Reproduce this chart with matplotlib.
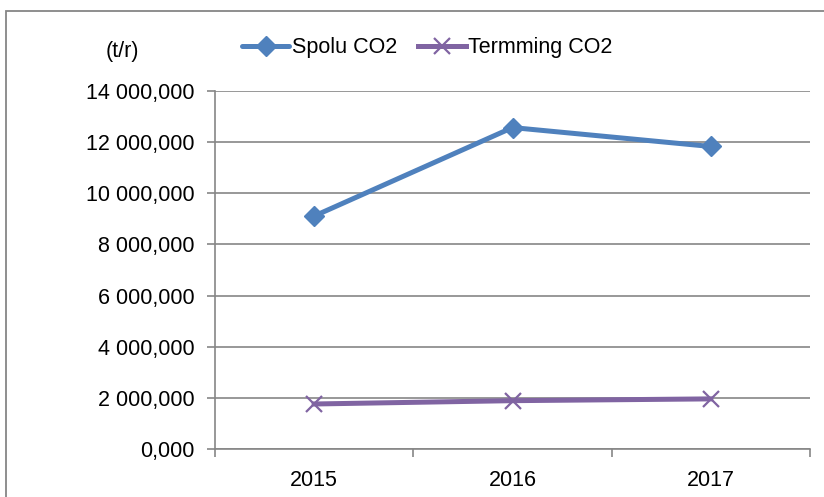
import matplotlib.pyplot as plt
from matplotlib.patches import Rectangle
from matplotlib.ticker import FuncFormatter

plt.rcParams['font.family'] = ['Liberation Sans Narrow', 'Liberation Sans', 'DejaVu Sans']

roky = ['2015', '2016', '2017']
spolu_co2 = [9110000, 12570000, 11830000]
termming_co2 = [1760000, 1890000, 1960000]

modra = '#4F81BD'
fialova = '#8064A2'
seda = '#868686'
velkost = 15.5

fig = plt.figure(figsize=(8.24, 4.97), dpi=100)
W, H = 824, 497
ax = fig.add_axes([215 / W, 1 - 449 / H, (810 - 215) / W, (449 - 91) / H])

# ramik okolo celeho grafu (orezany vpravo a dole)
fig.patches.append(Rectangle((6 / W, -0.05), 1.2, 1 - 11 / H + 0.05, transform=fig.transFigure,
                             fill=False, edgecolor=seda, linewidth=1.3))

x = [0.5, 1.5, 2.5]
ax.plot(x, spolu_co2, color=modra, lw=3.6, marker='D', markersize=10, label='Spolu CO2',
        solid_capstyle='round', zorder=3)
ax.plot(x, termming_co2, color=fialova, lw=3.6, marker='x', markersize=11, mew=1.6,
        label='Termming CO2', zorder=3)

ax.set_xlim(0, 3)
ax.set_ylim(0, 14000000)
ax.set_yticks(range(0, 14000001, 2000000))
ax.set_xticks([0, 1, 2, 3])
ax.set_xticklabels([])
ax.set_xticks(x, minor=True)
ax.set_xticklabels(roky, minor=True)
ax.tick_params(axis='x', which='minor', length=0, pad=15, labelsize=velkost)
ax.tick_params(axis='x', which='major', length=6, color=seda, width=1.2, direction='out')
ax.tick_params(axis='y', length=6, color=seda, width=1.2, pad=9, labelsize=velkost)


def formatuj(v, pos):
    cele = f'{int(round(v / 1000)):,}'.replace(',', ' ')
    return cele + ',000' if v else '0,000'


ax.yaxis.set_major_formatter(FuncFormatter(formatuj))
ax.grid(axis='y', color=seda, linewidth=1.2)
ax.set_axisbelow(True)
for s in ['top', 'right']:
    ax.spines[s].set_visible(False)
for s in ['left', 'bottom']:
    ax.spines[s].set_color(seda)
    ax.spines[s].set_linewidth(1.2)

fig.text(122 / W, 1 - 52 / H, '(t/r)', ha='center', va='center', fontsize=velkost)
fig.legend(loc='center left', bbox_to_anchor=(242 / W, 1 - 48 / H), ncol=2, frameon=False,
           fontsize=velkost, handlelength=2.2, handletextpad=0.1, columnspacing=1.0,
           borderpad=0, borderaxespad=0)

fig.savefig('out.png', dpi=100)
